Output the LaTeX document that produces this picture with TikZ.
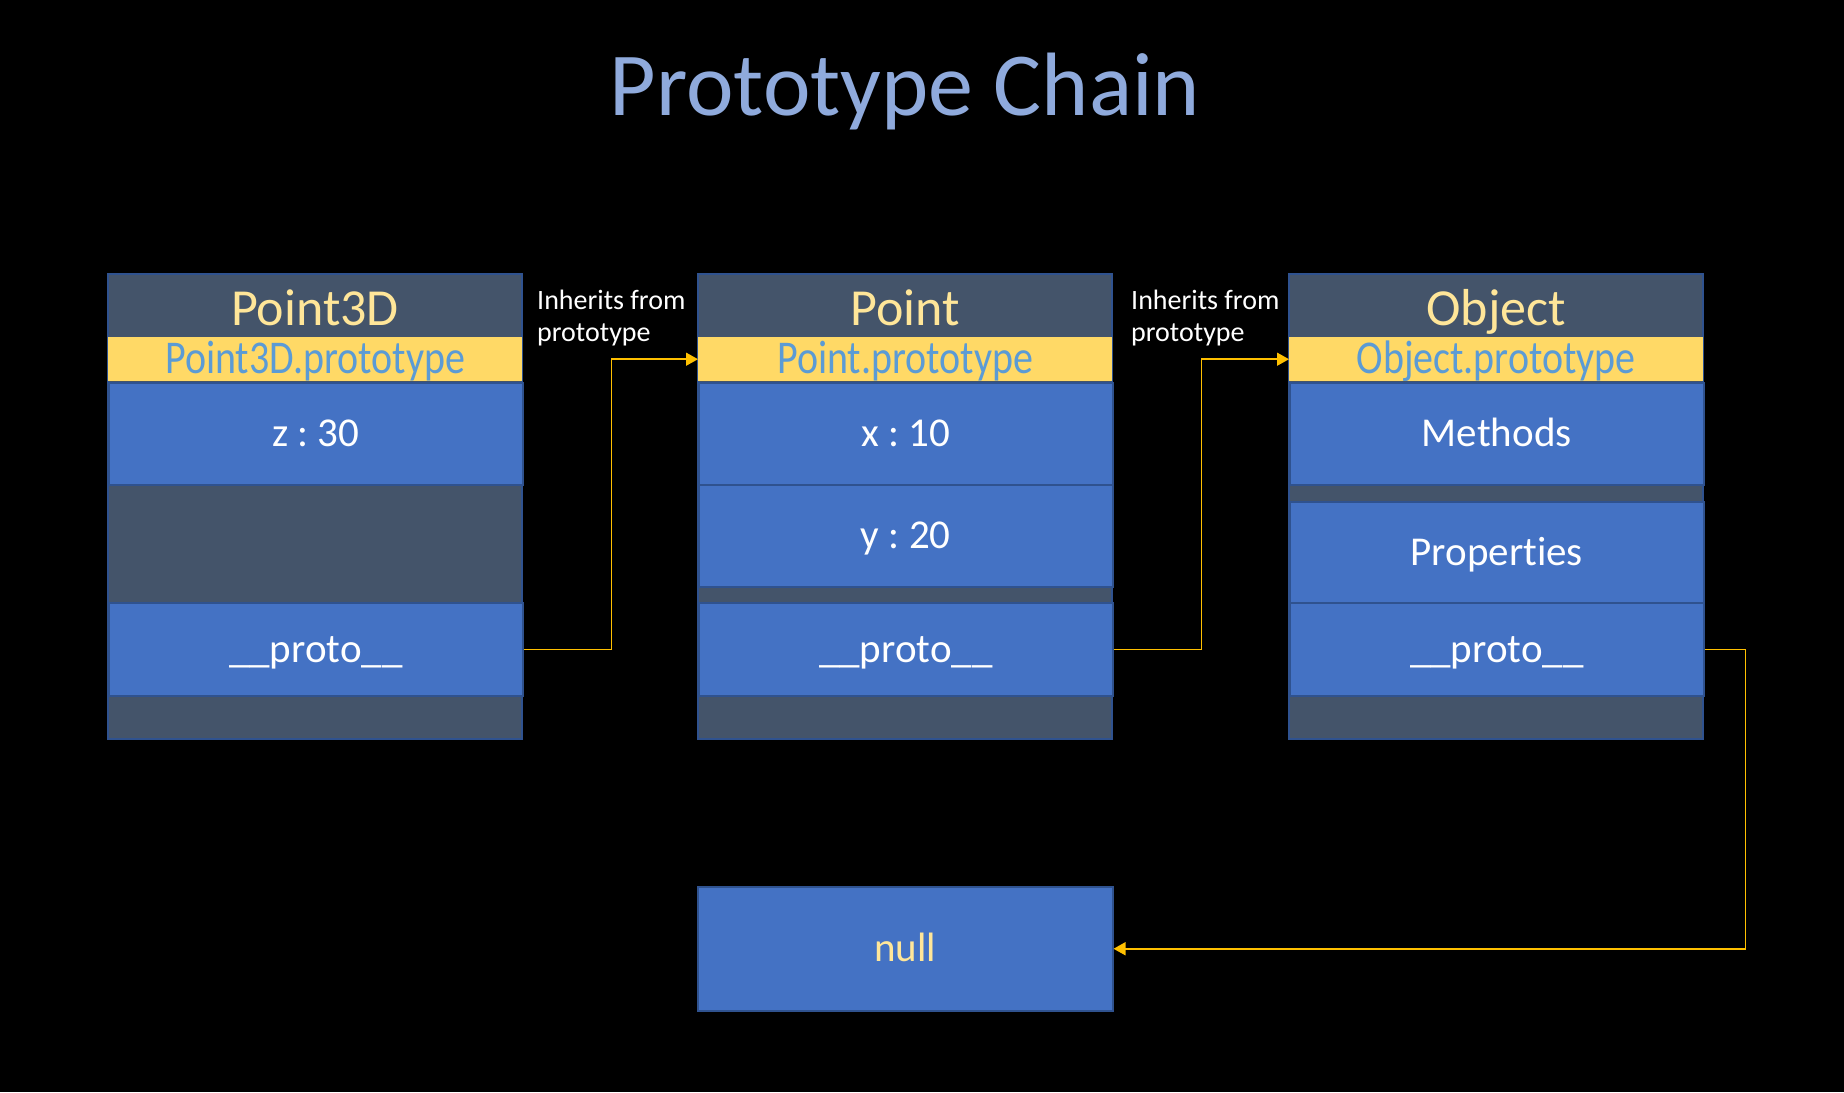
\documentclass[tikz,border=0pt]{standalone}
\usepackage{fontspec}
\setmainfont{Carlito}[Ligatures=NoCommon]
\newfontfamily\bandfont[FakeStretch=0.85, Ligatures=NoCommon]{Carlito}
\usetikzlibrary{arrows.meta}
\frenchspacing

\definecolor{slate}{HTML}{44546A}
\definecolor{cellblue}{HTML}{4472C4}
\definecolor{edgeblue}{HTML}{2F528F}
\definecolor{gold}{HTML}{FFD966}
\definecolor{cream}{HTML}{FFE699}
\definecolor{titleblue}{HTML}{8FAADC}
\definecolor{protoblue}{HTML}{5B9BD5}
\definecolor{link}{HTML}{FFC000}

\tikzset{
  title/.style={text=titleblue, anchor=base, font=\fontsize{90}{100}\selectfont},
  frame/.style={fill=slate, draw=edgeblue, line width=1.5pt},
  heading/.style={text=cream, anchor=base, font=\fontsize{52}{60}\selectfont},
  band/.style={fill=gold, minimum width=414pt, minimum height=44pt, inner sep=0pt,
    anchor=north west, text=protoblue, text height=29pt, text depth=0pt,
    font=\bandfont\fontsize{47}{50}\selectfont},
  cell/.style={fill=cellblue, draw=edgeblue, line width=1.5pt, minimum width=414pt,
    inner sep=0pt, anchor=north west, text=white, text height=26pt, text depth=0pt,
    font=\fontsize{41}{48}\selectfont},
  note/.style={text=white, align=left, anchor=north west, inner sep=0pt,
    font=\fontsize{28}{32}\selectfont},
  chain/.style={link, line width=1.5pt, -{Triangle[length=12pt, width=13pt]}}
}

\begin{document}
\begin{tikzpicture}[x=1pt, y=-1pt]

    \fill[black] (0,0) rectangle (1844,1092);
    \node[title] (title) at (905,115) {Prototype Chain};

    % -------------------------------
    % Point3D
    % -------------------------------
    \begin{scope}[xshift=108pt]
        \draw[frame] (0,274) rectangle (414,739);
        \node[heading] (p3head) at (207,325) {Point3D};
        \node[band] (p3band) at (0,337) {Point3D.prototype};
        \node[cell, minimum height=102pt] (p3z) at (0,382) {z : 30};
        \node[cell, minimum height=93pt] (p3proto) at (0,602) {\_\_proto\_\_};
    \end{scope}

    % -------------------------------
    % Point
    % -------------------------------
    \begin{scope}[xshift=698pt]
        \draw[frame] (0,274) rectangle (414,739);
        \node[heading] (pthead) at (207,325) {Point};
        \node[band] (ptband) at (0,337) {Point.prototype};
        \node[cell, minimum height=102pt] (ptx) at (0,382) {x : 10};
        \node[cell, minimum height=102pt] (pty) at (0,484) {y : 20};
        \node[cell, minimum height=93pt] (ptproto) at (0,602) {\_\_proto\_\_};
    \end{scope}

    % -------------------------------
    % Object
    % -------------------------------
    \begin{scope}[xshift=1289pt]
        \draw[frame] (0,274) rectangle (414,739);
        \node[heading] (objhead) at (207,325) {Object};
        \node[band] (objband) at (0,337) {Object.prototype};
        \node[cell, minimum height=102pt] (objmethods) at (0,382) {Methods};
        \node[cell, minimum height=101pt] (objprops) at (0,501) {Properties};
        \node[cell, minimum height=93pt] (objproto) at (0,602) {\_\_proto\_\_};
    \end{scope}

    % null
    \node[cell, minimum width=415pt, minimum height=124pt, text=cream] (nullbox) at (697,886) {null};

    % chain links
    \node[note] (note1) at (537,290) {Inherits from\\prototype};
    \node[note] (note2) at (1131,290) {Inherits from\\prototype};

    \draw[chain] (p3proto.east) -- ++(88,0) |- (ptband.west);
    \draw[chain] (ptproto.east) -- ++(88,0) |- (objband.west);
    \draw[chain] (objproto.east) -- ++(41,0) |- (nullbox.east);

\end{tikzpicture}
\end{document}
